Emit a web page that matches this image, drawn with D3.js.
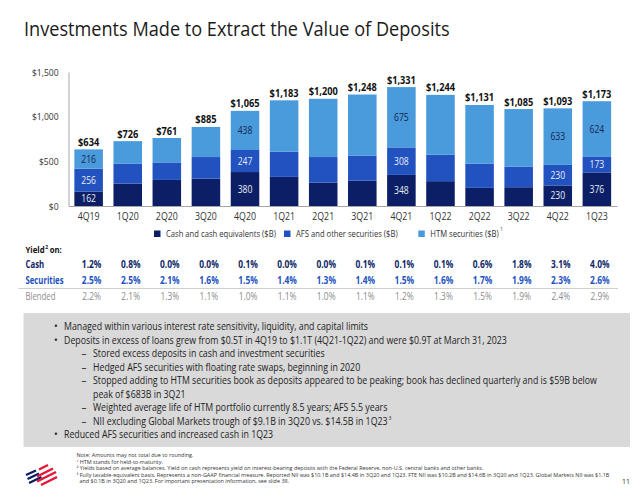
<!DOCTYPE html>
<html><head><meta charset="utf-8">
<script src="https://cdn.jsdelivr.net/npm/d3@7"></script>
<style>
body{margin:0;background:#fff}
svg{display:block}
text{font-family:"Open Sans",sans-serif}
</style>
</head><body>
<svg id="c" width="640" height="497"></svg>
<script>
// ---------- data ----------
const quarters = ["4Q19","1Q20","2Q20","3Q20","4Q20","1Q21","2Q21","3Q21","4Q21","1Q22","2Q22","3Q22","4Q22","1Q23"];
const cash = [162,250,292,306,380,326,262,285,348,278,203,210,230,376];
const afs  = [256,222,196,242,247,282,286,280,308,296,270,232,230,173];
const htm  = [216,254,273,337,438,575,652,683,675,670,658,643,633,624];
const totals = ["$634","$726","$761","$885","$1,065","$1,183","$1,200","$1,248","$1,331","$1,244","$1,131","$1,085","$1,093","$1,173"];
const labeledQuarters = ["4Q19","4Q20","4Q21","4Q22","1Q23"];
const yTicks = [0,500,1000,1500];
const seriesKeys = ["cash","afs","htm"];
const seriesNames = ["Cash and cash equivalents ($B)","AFS and other securities ($B)","HTM securities ($B)"];
const yieldCash  = ["1.2%","0.8%","0.0%","0.0%","0.1%","0.0%","0.0%","0.1%","0.1%","0.1%","0.6%","1.8%","3.1%","4.0%"];
const yieldSec   = ["2.5%","2.5%","2.1%","1.6%","1.5%","1.4%","1.3%","1.4%","1.5%","1.6%","1.7%","1.9%","2.3%","2.6%"];
const yieldBlend = ["2.2%","2.1%","1.3%","1.1%","1.0%","1.1%","1.0%","1.1%","1.2%","1.3%","1.5%","1.9%","2.4%","2.9%"];
const yieldRows = ["Cash","Securities","Blended"];
const bulletLevels = [1,1,2,2,2,0,2,2,1];
const bulletTexts = [
 "Managed within various interest rate sensitivity, liquidity, and capital limits",
 "Deposits in excess of loans grew from $0.5T in 4Q19 to $1.1T (4Q21-1Q22) and were $0.9T at March 31, 2023",
 "Stored excess deposits in cash and investment securities",
 "Hedged AFS securities with floating rate swaps, beginning in 2020",
 "Stopped adding to HTM securities book as deposits appeared to be peaking; book has declined quarterly and is $59B below",
 "peak of $683B in 3Q21",
 "Weighted average life of HTM portfolio currently 8.5 years; AFS 5.5 years",
 "NII excluding Global Markets trough of $9.1B in 3Q20 vs. $14.5B in 1Q23",
 "Reduced AFS securities and increased cash in 1Q23"
];
const footnotes = [
 "Note: Amounts may not total due to rounding.",
 "\u00B9 HTM stands for held-to-maturity.",
 "\u00B2 Yields based on average balances. Yield on cash represents yield on interest-bearing deposits with the Federal Reserve, non-U.S. central banks and other banks.",
 "\u00B3 Fully taxable-equivalent basis. Represents a non-GAAP financial measure. Reported NII was $10.1B and $14.4B in 3Q20 and 1Q23. FTE NII was $10.2B and $14.6B in 3Q20 and 1Q23. Global Markets NII was $1.1B",
 "and $0.1B in 3Q20 and 1Q23. For important presentation information, see slide 38."
];

// ---------- helpers ----------
const svg = d3.select("#c");
// condensed text: a group translated to (x,y) and scaled horizontally by k
function ct(parent, x, y, str, k, attrs){
  const g = parent.append("g").attr("transform",`translate(${x},${y}) scale(${k},1)`);
  const t = g.append("text").text(str);
  Object.entries(attrs||{}).forEach(([a,v])=>t.attr(a,v));
  t.scaledWidth = ()=>t.node().getComputedTextLength()*k;
  return t;
}
const colors = {cash:"#0c1f66", afs:"#2252bf", htm:"#4a9bdc"};

// ---------- title ----------
{
  const probe = svg.append("text").attr("font-size",20).text("Investments Made to Extract the Value of Deposits");
  const nat = probe.node().getComputedTextLength();
  probe.remove();
  ct(svg, 24, 36, "Investments Made to Extract the Value of Deposits", 426/nat, {"font-size":20, fill:"#1a1a1a"});
}

// ---------- scales ----------
const x = d3.scaleBand().domain(quarters).range([68.5,617]).paddingInner(0.27).paddingOuter(0.15);
const y = d3.scaleLinear().domain([0,1500]).range([206,72]);

const rows = quarters.map((q,i)=>({q, cash:cash[i], afs:afs[i], htm:htm[i], total:totals[i]}));
const stack = d3.stack().keys(seriesKeys)(rows);

// axes
const yAxis = svg.append("g").attr("transform","translate(68.5,0)")
  .call(d3.axisLeft(y).tickValues(yTicks).tickSize(0).tickSizeOuter(0).tickPadding(10)
    .tickFormat(d=>"$"+d3.format(",")(d)));
yAxis.select(".domain").attr("stroke","#a6a6a6").attr("stroke-width",1);
yAxis.selectAll("text").attr("font-size",9.5).attr("fill","#333").attr("font-family","Open Sans")
  .attr("x",-10/0.9).attr("transform","scale(0.9,1)");

// bars
svg.append("g").selectAll("g").data(stack).join("g")
  .attr("fill", d=>colors[d.key])
  .selectAll("rect").data(d=>d).join("rect")
  .attr("x", d=>x(d.data.q)).attr("width", x.bandwidth())
  .attr("y", d=>y(d[1])).attr("height", d=>y(d[0])-y(d[1]));

const xAxis = svg.append("g").attr("transform","translate(0,206)")
  .call(d3.axisBottom(x).tickSize(0).tickSizeOuter(0).tickPadding(7));
xAxis.select(".domain").attr("stroke","#a6a6a6").attr("stroke-width",1);
xAxis.selectAll("text").attr("font-size",10).attr("fill","#333").attr("font-family","Open Sans")
  .attr("transform","scale(0.88,1)");

// segment labels
const segLabels = svg.append("g");
stack.forEach(s=>{
  s.filter(d=>labeledQuarters.includes(d.data.q)).forEach(d=>{
    ct(segLabels, x(d.data.q)+x.bandwidth()/2, (y(d[0])+y(d[1]))/2 + 3.5, d.data[s.key], 0.86,
      {"font-size":10, "text-anchor":"middle", fill: s.key==="htm" ? "#15254d" : "#e6ecf7"});
  });
});

// totals
const totG = svg.append("g");
rows.forEach(d=>{
  ct(totG, x(d.q)+x.bandwidth()/2, y(d.cash+d.afs+d.htm)-3.5, d.total, 0.84,
    {"font-size":11, "font-weight":"bold", "text-anchor":"middle", fill:"#111"});
});

// legend
const legX = [154,284,418.3];
const leg = svg.append("g");
let lastLegEnd = 0;
seriesKeys.forEach((k,i)=>{
  leg.append("rect").attr("x",legX[i]).attr("y",230.5).attr("width",6.5).attr("height",6.5).attr("fill",colors[k]);
  const t = ct(leg, legX[i]+12, 237, seriesNames[i], 0.9, {"font-size":8.5, fill:"#333"});
  lastLegEnd = legX[i]+12+t.scaledWidth();
});
leg.append("text").attr("x",lastLegEnd+1.5).attr("y",231).attr("font-size",4.5).attr("fill","#333").text("1");

// yield table
const tbl = svg.append("g");
const yl1 = ct(tbl, 25.5, 252.5, "Yield", 0.82, {"font-size":9.5, "font-weight":"bold", fill:"#111"});
const ylW = yl1.scaledWidth();
tbl.append("text").attr("x",25.5+ylW+0.5).attr("y",248.5).attr("font-size",5).attr("font-weight","bold").attr("fill","#111").text("2");
ct(tbl, 25.5+ylW+5, 252.5, "on:", 0.82, {"font-size":9.5, "font-weight":"bold", fill:"#111"});

const rowY = [267.5, 283.5, 300];
const rowColors = ["#0c1f66","#2252bf","#8c8c8c"];
const rowWeights = ["bold","bold","normal"];
const rowData = [yieldCash, yieldSec, yieldBlend];
rowData.forEach((vals,r)=>{
  ct(tbl, 25.5, rowY[r], yieldRows[r], 0.74, {"font-size":10.5, "font-weight":rowWeights[r], fill:rowColors[r]});
  vals.forEach((v,i)=>{
    ct(tbl, x(quarters[i])+x.bandwidth()/2+3, rowY[r], v, 0.8,
      {"font-size":10.5, "font-weight":rowWeights[r], fill:rowColors[r], "text-anchor":"middle"});
  });
});
tbl.append("line").attr("x1",18.5).attr("x2",618).attr("y1",288.5).attr("y2",288.5).attr("stroke","#cfcfcf").attr("stroke-width",1);

// bullet box
svg.append("rect").attr("x",23.5).attr("y",313).attr("width",606.5).attr("height",134).attr("fill","#d9d9d9");
const bl = svg.append("g");
bulletTexts.forEach((txt,i)=>{
  const lvl = bulletLevels[i];
  const yy = 330 + i*13.5;
  if(lvl===1) bl.append("text").attr("x",54).attr("y",yy).attr("font-size",10).attr("fill","#222").text("\u2022");
  if(lvl===2) bl.append("text").attr("x",81.5).attr("y",yy).attr("font-size",10).attr("fill","#222").text("\u2013");
  const tx = lvl===1 ? 64 : 93;
  const t = ct(bl, tx, yy, txt, 0.88, {"font-size":10, fill:"#222"});
  if(i===7){
    bl.append("text").attr("x",tx+t.scaledWidth()+1).attr("y",yy-4.5).attr("font-size",5).attr("fill","#222").text("3");
  }
});

// footnotes
const fn = svg.append("g");
const fnY = [457,463.5,470,476.5,483];
footnotes.forEach((f,i)=>{
  ct(fn, i===4?79.5:76.5, fnY[i], f, 1.09, {"font-size":5, fill:"#333"});
});
svg.append("text").attr("x",630).attr("y",484).attr("text-anchor","end").attr("font-size",7).attr("fill","#333").text("11");

// logo (flag)
const logo = svg.append("g").attr("stroke-linecap","butt").attr("fill","none").attr("stroke-width",2.4);
const blue = [[[26,475],[36,470.5]],[[27.5,479],[39,473.5]],[[29,483],[41.5,477]]];
const red  = [[[39,469.5],[48,465]],[[37,476.5],[53,468.5]],[[37,481.5],[56,472]],[[41,485],[57,477]]];
blue.forEach(p=>logo.append("path").attr("d",d3.line()(p)).attr("stroke","#0c1f66"));
red.forEach(p=>logo.append("path").attr("d",d3.line()(p)).attr("stroke","#e31837"));
</script>
</body></html>
